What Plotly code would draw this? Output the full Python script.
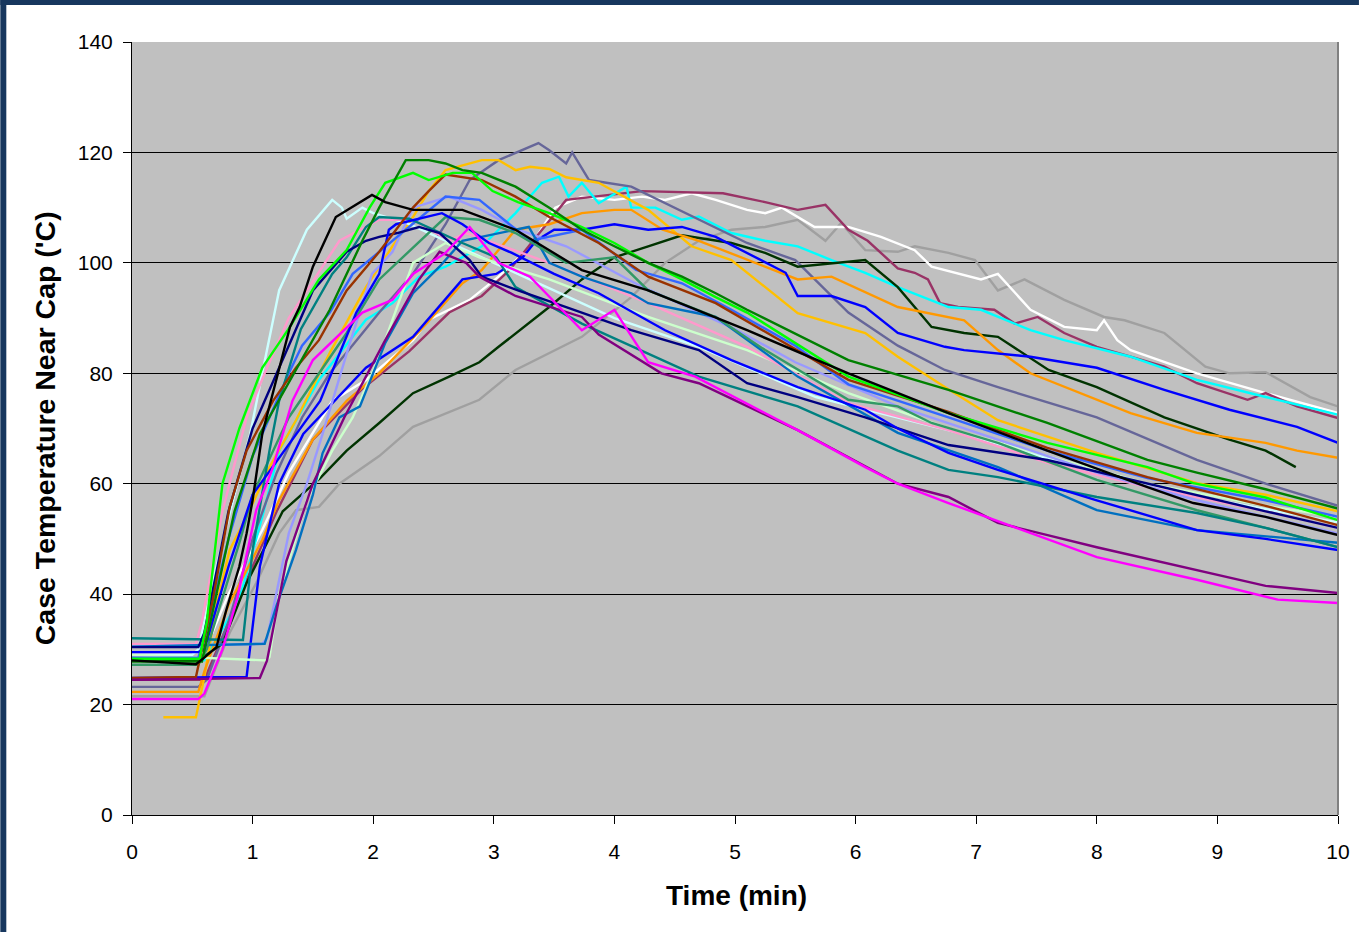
import plotly.graph_objects as go

# ---------------- data ----------------
x_ticks = [0, 1, 2, 3, 4, 5, 6, 7, 8, 9, 10]
y_ticks = [0, 20, 40, 60, 80, 100, 120, 140]

gray_t = [0, 0.6, 0.81, 1.03, 1.22, 1.36, 1.55, 1.72, 2.05, 2.33, 2.88, 3.18, 3.73, 4.14, 4.42, 4.7, 4.97, 5.25, 5.52, 5.75, 5.88, 6.08, 6.35, 6.49, 6.77, 6.99, 7.18, 7.4, 7.73, 8.06, 8.23, 8.56, 8.9, 9.1, 9.4, 9.77, 10]
gray_T = [21.5, 21.5, 33, 42, 51, 55.2, 55.8, 60, 65, 70.3, 75.2, 80.6, 86.6, 93.8, 100, 104, 106, 106.5, 107.8, 104, 107.2, 102.3, 102, 103, 101.8, 100.5, 95, 97, 93.3, 90.2, 89.6, 87.3, 81.2, 80, 80.2, 75.7, 74]

white_t = [0, 0.6, 0.8, 1.08, 1.3, 1.66, 1.94, 2.33, 2.46, 2.8, 3.04, 3.21, 3.32, 3.51, 3.73, 4.0, 4.23, 4.42, 4.64, 4.84, 5.1, 5.25, 5.39, 5.66, 5.94, 6.21, 6.49, 6.63, 7.04, 7.18, 7.45, 7.73, 8.0, 8.06, 8.17, 8.28, 8.83, 9.4, 10]
white_T = [29.5, 29.5, 40, 51.6, 62, 75, 78.8, 86, 89.7, 93.3, 97.5, 101, 103.6, 110, 112, 111.4, 112, 111.4, 112.6, 111.4, 109.6, 109, 110, 106.5, 106.5, 104.7, 102.3, 99.3, 97, 98, 91.5, 88.4, 87.8, 89.6, 86, 84.2, 80, 76.4, 72.8]

maroon_t = [0, 0.6, 0.9, 1.2, 1.5, 1.9, 2.3, 2.63, 2.9, 3.13, 3.6, 4.23, 4.9, 5.25, 5.52, 5.75, 5.94, 6.1, 6.35, 6.49, 6.6, 6.7, 6.85, 7.15, 7.32, 7.51, 7.73, 8.0, 8.28, 8.56, 8.83, 9.25, 9.4, 9.66, 10]
maroon_T = [24.5, 24.5, 40, 55, 68, 77, 84, 91, 94, 98.7, 111.4, 113, 112.6, 111, 109.6, 110.5, 106, 104, 99, 98.2, 97, 92.7, 92, 91.5, 89, 90.2, 87.3, 84.8, 83, 81.2, 78.2, 75.2, 76.4, 74, 71.9]

cyan_t = [0, 0.6, 0.89, 1.08, 1.22, 1.55, 1.94, 2.16, 2.38, 2.6, 2.9, 3.18, 3.4, 3.54, 3.62, 3.73, 3.87, 4.1, 4.14, 4.34, 4.56, 4.7, 4.97, 5.25, 5.52, 5.8, 6.08, 6.35, 6.77, 7.04, 7.45, 7.73, 8.28, 8.83, 9.4, 10]
cyan_T = [28, 28, 39, 54, 66, 78.8, 89.7, 92.7, 97.5, 99.3, 103, 109, 114.5, 115.6, 112, 114.5, 110.8, 113.8, 110, 110, 107.8, 108.4, 105.4, 104, 103, 100.5, 98.2, 95.6, 92, 91.5, 87.8, 86, 83, 78.8, 75.7, 72.5]

slate_t = [0, 0.55, 0.62, 0.8, 1.0, 1.2, 1.41, 1.64, 2.05, 2.33, 2.6, 2.8, 3.04, 3.37, 3.46, 3.6, 3.65, 3.79, 4.14, 4.4, 4.7, 5.1, 5.5, 5.94, 6.35, 6.74, 7.18, 8.0, 8.83, 9.4, 10]
slate_T = [23.2, 23.2, 24.5, 35, 50, 62, 72, 80, 91, 98, 107, 115, 118.6, 121.7, 120.4, 118, 120, 115, 113.8, 111, 107.8, 103.6, 100.5, 91, 85, 80.6, 77.5, 72, 64.3, 60, 56]

gold_t = [0.26, 0.53, 0.6, 0.7, 0.81, 0.95, 1.14, 1.36, 1.64, 1.94, 2.16, 2.33, 2.46, 2.6, 2.9, 3.04, 3.18, 3.3, 3.46, 3.6, 3.87, 4.28, 4.64, 4.97, 5.52, 6.08, 6.35, 6.74, 7.18, 8.0, 8.83, 9.4, 10]
gold_T = [17.7, 17.7, 25, 38, 48, 54, 63, 71.5, 83.7, 95.6, 103, 108.3, 113, 116.8, 118.6, 118.6, 116.8, 117.4, 117, 115.5, 114.5, 109.6, 103, 100.5, 90.9, 87.3, 83, 77.5, 71.5, 65.6, 60.1, 58, 55]

green_t = [0, 0.58, 0.7, 0.85, 1.06, 1.31, 1.64, 1.91, 2.05, 2.27, 2.46, 2.6, 2.74, 2.9, 3.18, 3.46, 3.73, 4.0, 4.28, 4.56, 4.84, 5.1, 5.94, 6.77, 7.59, 8.42, 8.83, 9.4, 10]
green_T = [27.8, 27.8, 40, 55, 69, 78.8, 91.5, 104, 110, 118.6, 118.6, 118, 116.8, 116.3, 113.8, 110, 106, 103, 100, 97.5, 94.5, 91.5, 82.4, 77, 71, 64.3, 62, 59, 55.5]

lime_t = [0, 0.56, 0.62, 0.75, 0.89, 1.08, 1.31, 1.55, 1.78, 1.97, 2.1, 2.33, 2.46, 2.66, 2.82, 2.99, 3.2, 3.46, 3.73, 4.0, 4.28, 4.56, 4.84, 5.1, 5.94, 6.77, 7.59, 8.42, 8.8, 9.4, 10]
lime_T = [28.3, 28.3, 35, 60, 70, 81, 88.4, 97, 102.3, 110, 114.5, 116.3, 115, 116.3, 116.3, 113, 111, 109, 106.5, 103.6, 100, 97, 93.8, 91, 79.4, 72.8, 67.4, 63, 60.1, 57.5, 53.4]

black_t = [0, 0.53, 0.6, 0.7, 0.78, 0.89, 0.95, 1.0, 1.08, 1.31, 1.39, 1.5, 1.69, 1.99, 2.1, 2.33, 2.74, 3.18, 3.73, 4.28, 5.1, 5.94, 6.77, 7.59, 8.42, 8.8, 9.4, 10]
black_T = [28, 27.3, 28.5, 30.4, 37, 45, 51, 57, 69, 88.4, 92, 99.3, 108.3, 112.3, 111, 109.6, 109.6, 106, 98.7, 95, 87.8, 80, 72.8, 66, 59.4, 56.5, 54, 50.7]

brown_t = [0, 0.53, 0.58, 0.67, 0.81, 0.95, 1.17, 1.36, 1.55, 1.78, 2.05, 2.33, 2.46, 2.6, 2.9, 3.18, 3.46, 3.87, 4.28, 4.84, 5.94, 6.77, 7.59, 8.42, 9.4, 10]
brown_T = [24.8, 25, 30, 39, 55.8, 66, 75, 81, 86, 95, 102, 110, 113, 116, 115, 112, 108.3, 103.6, 97.5, 92.7, 78.8, 73, 66.5, 61.2, 56, 52.5]

pink_t = [0, 0.53, 0.58, 0.75, 0.95, 1.1, 1.3, 1.72, 2.05, 2.33, 2.63, 2.77, 3.46, 4.28, 5.1, 5.94, 6.77, 7.59, 8.42, 9.4, 10]
pink_T = [31, 31, 35, 55, 72, 80, 90, 104, 107.8, 107.8, 104, 105.4, 100, 92.7, 84.8, 74.6, 69.7, 63.8, 59.4, 55, 52]

palegreen_t = [0, 0.55, 1.12, 1.14, 1.22, 1.45, 1.66, 1.83, 2.05, 2.33, 2.6, 2.88, 3.46, 4.28, 5.1, 5.94, 6.77, 7.59, 8.42, 9.4, 10]
palegreen_T = [29, 28.5, 28, 28.6, 40, 57, 66, 72, 83, 100, 103.6, 101, 97, 90.2, 84.2, 76.4, 70, 65, 60, 56, 54]

purple_t = [0, 1.06, 1.12, 1.28, 1.5, 1.76, 2.1, 2.38, 2.55, 2.77, 2.88, 3.18, 3.73, 3.87, 4.39, 4.7, 5.52, 6.35, 6.77, 7.18, 8.0, 8.83, 9.4, 10]
purple_T = [24.5, 24.8, 28, 46, 60, 72, 86, 97, 102, 100, 97.5, 94, 90.2, 87, 80, 78.2, 69.7, 60, 57.6, 52.9, 48.5, 44.4, 41.5, 40.2]

magenta_t = [0, 0.55, 0.6, 0.75, 0.87, 1.03, 1.17, 1.33, 1.5, 1.91, 2.16, 2.33, 2.6, 2.8, 3.04, 3.3, 3.73, 4.0, 4.28, 4.67, 5.52, 6.08, 6.35, 6.77, 8.0, 8.83, 9.5, 10]
magenta_T = [21, 21, 22, 30, 39, 55.2, 63, 75, 82.4, 91, 93.3, 98, 101.8, 106.5, 100, 97.5, 87.8, 91.5, 82, 79.4, 69.7, 63, 60, 56.5, 46.7, 42.6, 39, 38.4]

teal_t = [0, 0.92, 1.0, 1.14, 1.22, 1.4, 1.66, 1.78, 1.94, 2.05, 2.3, 2.74, 3.02, 3.18, 3.73, 4.7, 5.52, 6.35, 6.77, 7.18, 8.0, 8.83, 9.4, 10]
teal_T = [32, 31.7, 48, 66, 75, 88, 98, 101, 106.5, 108.3, 108, 103.6, 101, 95.6, 89, 79.4, 74, 66, 62.5, 61.2, 57.6, 54.7, 52, 48.5]

seagreen_t = [0, 0.55, 0.62, 0.9, 1.0, 1.3, 1.78, 2.05, 2.6, 2.88, 3.18, 3.6, 4.0, 4.28, 4.84, 5.25, 5.94, 6.35, 6.63, 7.18, 8.0, 8.83, 9.4, 10]
seagreen_T = [27.2, 27.2, 30, 50, 58, 72, 87.3, 97, 108.3, 107.8, 105.4, 100, 101, 95, 90.2, 84.2, 75.2, 74, 71, 67.4, 60.7, 55.2, 52, 48.5]

medblue_t = [0, 0.55, 0.6, 0.8, 1.0, 1.3, 1.41, 1.64, 1.83, 2.05, 2.33, 2.6, 2.88, 3.3, 3.73, 4.18, 4.56, 4.97, 5.5, 5.94, 6.77, 7.59, 8.42, 9.4, 10]
medblue_T = [28.5, 28.5, 32, 50, 65, 80, 85, 91, 98, 102, 107, 112, 111.4, 104, 106, 98.7, 96.3, 91.5, 85, 78, 72, 66, 61, 57, 54]

lavender_t = [0, 1.08, 1.12, 1.3, 1.45, 1.58, 1.8, 1.99, 2.16, 2.33, 2.63, 2.9, 3.2, 3.6, 4.2, 5.0, 5.5, 6.35, 7.18, 8.0, 8.83, 9.4, 10]
lavender_T = [30.5, 31, 32, 51, 60, 69, 85, 98, 102, 110, 112, 109.6, 106, 103, 96, 88, 82, 74, 68, 62, 57, 54, 51]

blueA_t = [0, 0.95, 1.06, 1.22, 1.42, 1.94, 2.33, 2.74, 3.02, 3.24, 3.35, 3.5, 3.73, 4.0, 4.28, 4.56, 4.84, 5.1, 5.42, 5.52, 5.8, 6.08, 6.35, 6.74, 6.9, 7.45, 8.0, 8.56, 9.1, 9.66, 10]
blueA_T = [24.8, 25, 45, 60, 69, 81, 86.6, 97, 98, 101, 104, 106, 106, 107, 106, 106.5, 104.7, 101.8, 98.2, 94, 94, 92, 87.3, 84.8, 84.2, 83, 81, 77, 73.4, 70.3, 67.4]

blueB_t = [0, 0.55, 0.6, 0.8, 1.0, 1.3, 1.56, 1.86, 2.05, 2.13, 2.19, 2.57, 2.74, 2.96, 3.15, 3.5, 3.87, 4.42, 4.97, 5.52, 6.08, 6.35, 6.77, 7.18, 8.0, 8.83, 9.4, 10]
blueB_T = [29.5, 29.5, 30, 45, 58, 67, 75, 91, 98, 106, 107, 109, 107, 103.6, 101.8, 98, 94.5, 87.8, 82.4, 77.5, 73.4, 70, 65.6, 62.5, 57, 51.6, 50, 48]

forest_t = [0, 0.55, 0.75, 0.95, 1.09, 1.25, 1.56, 1.78, 2.05, 2.33, 2.63, 2.88, 3.04, 3.46, 3.73, 4.0, 4.28, 4.56, 4.97, 5.25, 5.52, 6.08, 6.35, 6.63, 6.9, 7.18, 7.6, 8.0, 8.56, 9.1, 9.4, 9.65]
forest_T = [28, 28, 31, 42, 48, 55, 61, 66, 71, 76.4, 79.4, 82, 84.8, 92, 97, 101, 103, 105, 103.6, 101.8, 99.3, 100.5, 95.6, 88.4, 87.3, 86.6, 80.6, 77.5, 72, 68, 66, 63]

orange_t = [0, 0.55, 0.6, 0.8, 1.08, 1.22, 1.5, 1.78, 2.05, 2.4, 2.74, 2.9, 3.18, 3.46, 3.73, 4.0, 4.14, 4.4, 4.7, 5.25, 5.52, 5.8, 6.35, 6.9, 7.18, 7.45, 7.87, 8.28, 8.83, 9.4, 9.66, 10]
orange_T = [22.3, 22.3, 26, 38, 49.8, 57, 68, 75, 80, 88, 96.3, 98.7, 106, 107, 109, 109.6, 109.6, 106, 104, 99.3, 97, 97.5, 92, 89.6, 84.2, 80, 76.4, 72.8, 69.2, 67.4, 66, 64.7]

navy_t = [0, 0.55, 0.6, 0.8, 1.0, 1.3, 1.5, 1.78, 1.94, 2.05, 2.2, 2.38, 2.55, 2.8, 2.9, 3.2, 3.6, 4.14, 4.7, 5.1, 5.52, 6.08, 6.77, 7.59, 8.42, 9.4, 10]
navy_T = [30.4, 30.4, 33, 55, 70, 85, 95, 102, 104, 104.7, 105.4, 106.5, 105.4, 100.5, 97.5, 95, 92, 87.8, 84.2, 78.2, 75.7, 72, 67, 64.3, 60, 55, 52]

steel_t = [0, 1.1, 1.2, 1.36, 1.5, 1.58, 1.72, 1.89, 2.1, 2.33, 2.55, 2.74, 3.29, 3.46, 3.73, 4.14, 4.28, 4.84, 5.52, 6.35, 7.18, 8.0, 8.83, 9.4, 10]
steel_T = [30.5, 31, 38, 48, 58, 65.5, 72, 74, 85.5, 94.5, 99.3, 104, 106.5, 100, 97.5, 94.5, 92.7, 90.2, 79.4, 69.2, 63, 55.2, 51.6, 50.5, 49.3]

lightcyan_t = [0, 0.5, 0.55, 0.7, 0.85, 0.98, 1.08, 1.22, 1.45, 1.66, 1.74, 1.78, 1.91, 2.0, 2.3, 2.6, 3.0, 3.5, 4.0, 4.7, 5.67, 6.9, 8.0, 9.0, 10]
lightcyan_T = [29, 29, 30, 45, 58, 69, 80, 95, 106, 111.4, 110, 108, 110, 109, 107, 104, 100, 95, 90, 84.8, 75.7, 69, 62, 57, 53]

series = [
    ("gray", gray_t, gray_T, "#A0A0A0"),
    ("white", white_t, white_T, "#FFFFFF"),
    ("maroon", maroon_t, maroon_T, "#993366"),
    ("cyan", cyan_t, cyan_T, "#00FFFF"),
    ("slate", slate_t, slate_T, "#666699"),
    ("gold", gold_t, gold_T, "#FFC000"),
    ("forest", forest_t, forest_T, "#003300"),
    ("orange", orange_t, orange_T, "#FF9900"),
    ("blueA", blueA_t, blueA_T, "#0000FF"),
    ("lightcyan", lightcyan_t, lightcyan_T, "#CCFFFF"),
    ("palegreen", palegreen_t, palegreen_T, "#CCFFCC"),
    ("pink", pink_t, pink_T, "#FF99CC"),
    ("lavender", lavender_t, lavender_T, "#9999FF"),
    ("medblue", medblue_t, medblue_T, "#3366FF"),
    ("steel", steel_t, steel_T, "#0070C0"),
    ("seagreen", seagreen_t, seagreen_T, "#339966"),
    ("teal", teal_t, teal_T, "#008080"),
    ("navy", navy_t, navy_T, "#000080"),
    ("blueB", blueB_t, blueB_T, "#0000FF"),
    ("brown", brown_t, brown_T, "#993300"),
    ("lime", lime_t, lime_T, "#00FF00"),
    ("green", green_t, green_T, "#008000"),
    ("black", black_t, black_T, "#000000"),
    ("purple", purple_t, purple_T, "#800080"),
    ("magenta", magenta_t, magenta_T, "#FF00FF"),
]

# ---------------- figure ----------------
W, H = 1362, 932
ML, MR, MT, MB = 132, 21, 42, 117
PW, PH = W - ML - MR, H - MT - MB

fig = go.Figure()
for name, t, T, col in series:
    fig.add_trace(go.Scatter(x=t, y=T, mode="lines", name=name,
                             line=dict(color=col, width=2.4), showlegend=False,
                             hoverinfo="skip"))

font_family = "Liberation Sans, Arial, sans-serif"
fig.update_layout(
    width=W, height=H,
    margin=dict(l=ML, r=MR, t=MT, b=MB),
    paper_bgcolor="white",
    plot_bgcolor="#C0C0C0",
    font=dict(family=font_family, color="black", size=21),
    showlegend=False,
)
fig.update_xaxes(range=[0, 10], tickvals=x_ticks, showgrid=False, zeroline=False,
                 showline=True, linecolor="black", linewidth=1,
                 ticks="outside", ticklen=8, tickcolor="black",
                 tickfont=dict(size=21, family=font_family), ticklabelstandoff=10)
fig.update_yaxes(range=[0, 140], tickvals=y_ticks, showgrid=True, gridcolor="black",
                 gridwidth=1, zeroline=False,
                 showline=True, linecolor="black", linewidth=1,
                 ticks="outside", ticklen=8, tickcolor="black",
                 tickfont=dict(size=21, family=font_family), ticklabelstandoff=6)

def px_x(px):
    return (px - ML) / PW

def px_y(py):
    return (H - MB - py) / PH

shapes = [
    # right border of plot area
    dict(type="line", xref="paper", yref="paper", x0=1, x1=1, y0=0, y1=1,
         line=dict(color="#808080", width=2)),
    # navy frame left and top
    dict(type="rect", xref="paper", yref="paper", x0=px_x(0), x1=px_x(6),
         y0=px_y(H), y1=px_y(0), fillcolor="#17375E", line=dict(width=0), layer="above"),
    dict(type="rect", xref="paper", yref="paper", x0=px_x(0), x1=px_x(W),
         y0=px_y(5), y1=px_y(0), fillcolor="#17375E", line=dict(width=0), layer="above"),
]
fig.update_layout(shapes=shapes)

fig.add_annotation(text="<b>Case Temperature Near Cap ('C)</b>", xref="paper", yref="paper",
                   x=px_x(45), y=px_y(428), textangle=-90, showarrow=False,
                   xanchor="center", yanchor="middle",
                   font=dict(size=28.5, family=font_family, color="black"))
fig.add_annotation(text="<b>Time (min)</b>", xref="paper", yref="paper",
                   x=px_x(738), y=px_y(895), showarrow=False,
                   xanchor="center", yanchor="middle",
                   font=dict(size=28, family=font_family, color="black"))

fig.write_html("out.html", config={"displayModeBar": False},
               post_script="document.body.style.margin='0';document.body.style.overflow='hidden';")
